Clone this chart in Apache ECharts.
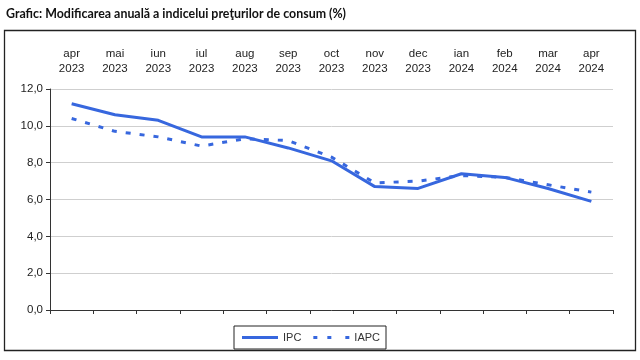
<!DOCTYPE html>
<html><head><meta charset="utf-8">
<script src="https://cdn.jsdelivr.net/npm/echarts@6/dist/echarts.min.js"></script>
<style>html,body{margin:0;padding:0;background:#fff}#c{width:640px;height:360px}</style>
</head><body><div id="c"></div>
<script>
const months = ['apr','mai','iun','iul','aug','sep','oct','nov','dec','ian','feb','mar','apr'];
const years = ['2023','2023','2023','2023','2023','2023','2023','2023','2023','2024','2024','2024','2024'];
const ipc = [11.2, 10.6, 10.3, 9.4, 9.4, 8.8, 8.1, 6.7, 6.6, 7.4, 7.2, 6.6, 5.9];
const iapc = [10.4, 9.7, 9.4, 8.9, 9.3, 9.2, 8.3, 6.9, 7.0, 7.3, 7.2, 6.8, 6.4];
const yTicks = [0, 2, 4, 6, 8, 10, 12];

const cats = months.map((m, i) => m + '\n' + years[i]);
const color = '#3767DE';
const chart = echarts.init(document.getElementById('c'));
chart.setOption({
  animation: false,
  textStyle: { fontFamily: 'Liberation Sans' },
  title: {
    text: 'Grafic: Modificarea anuală a indicelui preţurilor de consum (%)',
    left: 1, top: 3,
    textStyle: { fontFamily: 'Lato', fontWeight: 'bold', fontSize: 12.4, color: '#111' }
  },
  graphic: [{
    type: 'rect', shape: { x: 4.5, y: 30.5, width: 631, height: 320 },
    style: { fill: 'none', stroke: '#222', lineWidth: 1.3 }, z: -1
  }],
  legend: {
    bottom: 11, left: 234, width: 150, height: 24,
    padding: [6, 6, 6, 8],
    borderColor: '#222', borderWidth: 1,
    itemWidth: 36, itemHeight: 3, itemGap: 12,
    textStyle: { fontSize: 11, color: '#333', fontFamily: 'Liberation Sans' },
    data: [
      { name: 'IPC', icon: 'path://M0,0 L36,0 L36,3 L0,3 Z' },
      { name: 'IAPC', icon: 'path://M0,0 L4,0 L4,3 L0,3 Z M14,0 L18,0 L18,3 L14,3 Z M32,0 L36,0 L36,3 L32,3 Z' }
    ]
  },
  grid: { left: 50, right: 27, top: 89, bottom: 50 },
  xAxis: [{
    type: 'category', data: cats, position: 'bottom', boundaryGap: true,
    axisLine: { lineStyle: { color: '#333', width: 1 } },
    axisTick: { show: true, length: 4, lineStyle: { color: '#333' } },
    axisLabel: { show: false }
  }, {
    type: 'category', data: cats, position: 'top', boundaryGap: true,
    axisLine: { show: false }, axisTick: { show: false },
    axisLabel: { fontSize: 11.5, color: '#222', lineHeight: 15, margin: 13 }
  }],
  yAxis: {
    type: 'value', min: yTicks[0], max: yTicks[yTicks.length - 1], interval: 2,
    axisLine: { show: true, lineStyle: { color: '#333' } },
    axisTick: { show: true, length: 4, lineStyle: { color: '#333' } },
    splitLine: { lineStyle: { color: '#cfcfcf' } },
    axisLabel: { fontSize: 11.5, color: '#222', margin: 7,
      formatter: v => v.toFixed(1).replace('.', ',') }
  },
  series: [{
    name: 'IPC', type: 'line', data: ipc, symbol: 'none', color: color,
    lineStyle: { width: 3, color: color }
  }, {
    name: 'IAPC', type: 'line', data: iapc, symbol: 'none', color: color,
    lineStyle: { width: 3, color: color, type: [5, 9] }
  }]
});
</script></body></html>
